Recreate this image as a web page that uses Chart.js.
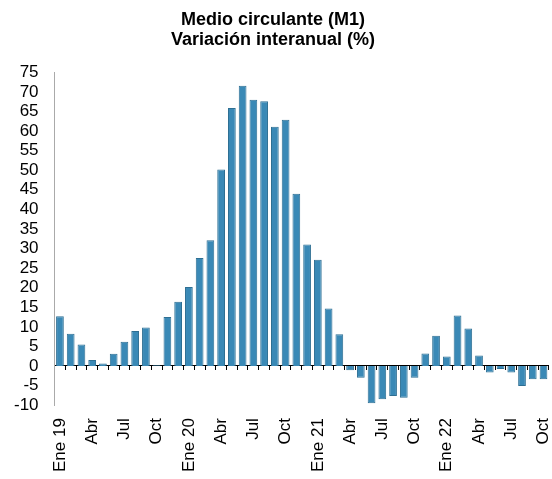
<!DOCTYPE html>
<html>
<head>
<meta charset="utf-8">
<script src="https://cdn.jsdelivr.net/npm/chart.js@4"></script>
<style>
  body { margin: 0; background: #fff; }
  #wrap { width: 552px; height: 479px; }
</style>
</head>
<body>
<div id="wrap"><canvas id="barChart" width="552" height="479"></canvas></div>
<script>
// months Ene 19 .. Oct 22
const months = ['Ene', 'Feb', 'Mar', 'Abr', 'May', 'Jun', 'Jul', 'Ago', 'Sep', 'Oct', 'Nov', 'Dic'];
const years = ['19', '20', '21', '22'];
const shownMonths = ['Ene', 'Abr', 'Jul', 'Oct'];

// variacion interanual M1 (%)
const m1Values = [
    12.7, 8.2, 5.5, 1.5, 0.6, 3.1, 6.2, 8.9, 9.8, 0.2, 12.5, 16.4,
    20.2, 27.6, 32.1, 50.2, 65.9, 71.6, 68.0, 67.6, 61.1, 62.9, 44.0, 31.0,
    27.1, 14.7, 8.1, -1.1, -3.0, -9.5, -8.5, -7.7, -8.1, -3.0, 3.2, 7.7,
    2.4, 12.9, 9.6, 2.7, -1.7, -0.8, -1.7, -5.1, -3.4, -3.4
];

const yTicks = { min: -10, max: 75, step: 5 };

// build the labels list
const labels = [];
years.forEach(y => {
    months.forEach(m => {
        if (labels.length < m1Values.length) {
            labels.push(m === 'Ene' ? m + ' ' + y : m);
        }
    });
});

function tickLabel(i) {
    const lab = labels[i];
    const m = lab.split(' ')[0];
    return shownMonths.includes(m) ? lab : '';
}

const ctx = document.getElementById('barChart').getContext('2d');
const barChart = new Chart(ctx, {
    type: 'bar',
    data: {
        labels: labels,
        datasets: [{
            label: 'M1',
            data: m1Values,
            backgroundColor: '#3a89b6',
            borderColor: '#2e6f93',
            borderWidth: 1,
            barPercentage: 0.72,
            categoryPercentage: 1.0
        }]
    },
    options: {
        responsive: false,
        animation: false,
        layout: { padding: { left: -16, right: -10, top: 0, bottom: 7 } },
        plugins: {
            legend: { display: false },
            tooltip: { enabled: false },
            title: {
                display: true,
                text: ['Medio circulante (M1)', 'Variación interanual (%)'],
                color: '#000',
                font: { family: 'Liberation Sans', size: 18, weight: 'bold', lineHeight: 1.12 },
                padding: { top: 10, bottom: 22 }
            }
        },
        scales: {
            x: {
                // transparent ticks keep the labels away from the plot
                grid: { display: true, drawOnChartArea: false, drawTicks: true, tickLength: 13, color: 'rgba(0,0,0,0)' },
                border: { display: false },
                ticks: {
                    autoSkip: false,
                    maxRotation: 90,
                    minRotation: 90,
                    padding: 0,
                    color: '#000',
                    font: { family: 'Liberation Sans', size: 17, lineHeight: 0.5 },
                    callback: function (val, i) { return tickLabel(i); }
                }
            },
            // zero line with the small ticks between months
            xZero: {
                type: 'category',
                position: { y: 0 },
                offset: true,
                grid: { offset: true, drawOnChartArea: false, drawTicks: true, tickLength: 4, color: '#000', lineWidth: 1 },
                border: { display: true, color: '#000', width: 1 },
                ticks: { display: false }
            },
            y: {
                min: yTicks.min,
                max: yTicks.max,
                afterFit: function (scale) { scale.width += 18; },
                grid: { display: false, drawTicks: true, tickLength: 4, color: '#999' },
                border: { display: true, color: '#aaa', dash: [1, 1] },
                ticks: {
                    stepSize: yTicks.step,
                    autoSkip: false,
                    padding: 12,
                    color: '#000',
                    font: { family: 'Liberation Sans', size: 17, lineHeight: 1 }
                }
            }
        }
    }
});
</script>
</body>
</html>
